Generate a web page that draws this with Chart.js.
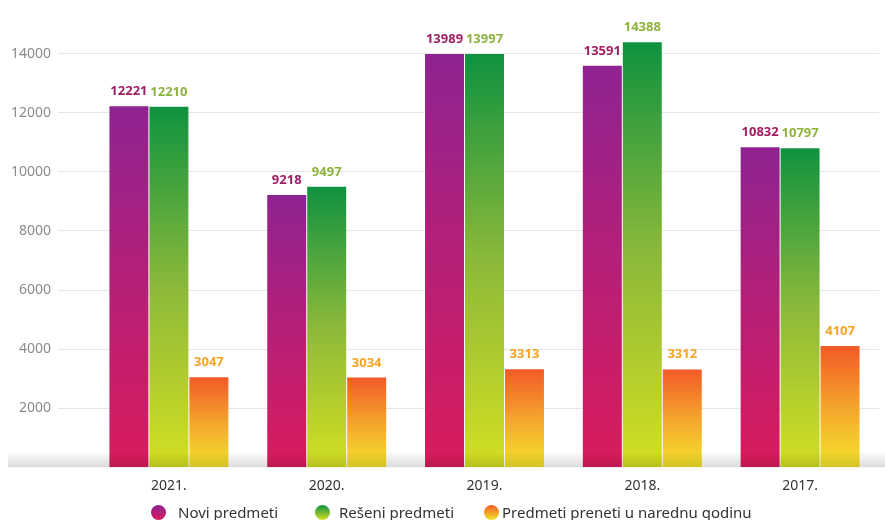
<!DOCTYPE html>
<html>
<head>
<meta charset="utf-8">
<script src="https://cdn.jsdelivr.net/npm/chart.js@4/dist/chart.umd.min.js"></script>
<style>
  html, body { margin: 0; padding: 0; background: #fff; overflow: hidden; }
  .wrap { position: relative; width: 885px; height: 520px; }
  .legend { position: absolute; left: 0; top: 502px; width: 885px; height: 20px;
    font-family: "Noto Sans", sans-serif; font-size: 15px; color: #333; }
  .legend span.item { position: absolute; top: 0; white-space: nowrap; line-height: 20px; }
  .legend i { display: inline-block; width: 15px; height: 15px; border-radius: 50%; vertical-align: -2px; }
</style>
</head>
<body>
<div class="wrap">
  <canvas id="chart" width="885" height="520"></canvas>
  <div class="legend" id="legend"></div>
</div>
<script>
// Podaci
const godine = ['2021.', '2020.', '2019.', '2018.', '2017.'];
const noviPredmeti = [12221, 9218, 13989, 13591, 10832];
const reseniPredmeti = [12210, 9497, 13997, 14388, 10797];
const preneti = [3047, 3034, 3313, 3312, 4107];
const nazivi = ['Novi predmeti', 'Rešeni predmeti', 'Predmeti preneti u narednu godinu'];
const yPodeoci = [2000, 4000, 6000, 8000, 10000, 12000, 14000];

// boje: vrh, sredina, dno, boja natpisa
const boje = [
    ['#8e2391', '#b61f77', '#da1b5c', '#a01e63'],
    ['#0f923f', '#8cb93a', '#d4df22', '#8db43e'],
    ['#f25a27', '#f4a42d', '#f4e42c', '#f7a325']
];

function gradijent(i) {
    return function (context) {
        const chart = context.chart;
        if (!chart.chartArea || context.type !== 'data') return boje[i][0];
        const y = chart.scales.y;
        const top = y.getPixelForValue(context.raw);
        const bottom = y.getPixelForValue(0);
        const g = chart.ctx.createLinearGradient(0, top, 0, bottom);
        g.addColorStop(0, boje[i][0]);
        g.addColorStop(0.5, boje[i][1]);
        g.addColorStop(1, boje[i][2]);
        return g;
    };
}

// senka pri dnu + vrednosti iznad stubova
const natpisi = {
    id: 'natpisi',
    afterDatasetsDraw(chart) {
        const ctx = chart.ctx;
        const y0 = chart.scales.y.getPixelForValue(0);
        const sh = ctx.createLinearGradient(0, y0 - 16, 0, y0);
        sh.addColorStop(0, 'rgba(0,0,0,0)');
        sh.addColorStop(1, 'rgba(0,0,0,0.14)');
        ctx.save();
        ctx.fillStyle = sh;
        ctx.fillRect(8, y0 - 16, chart.width - 8, 16);

        ctx.font = "bold 13px 'Noto Sans', sans-serif";
        ctx.textAlign = 'center';
        ctx.textBaseline = 'alphabetic';
        chart.data.datasets.forEach((ds, i) => {
            const meta = chart.getDatasetMeta(i);
            ctx.fillStyle = boje[i][3];
            meta.data.forEach((bar, j) => {
                ctx.fillText(ds.data[j], bar.x, bar.y - 11);
            });
        });
        ctx.restore();
    }
};

const ctx = document.getElementById('chart').getContext('2d');
const myChart = new Chart(ctx, {
    type: 'bar',
    data: {
        labels: godine,
        datasets: [
            { label: nazivi[0], data: noviPredmeti, backgroundColor: gradijent(0) },
            { label: nazivi[1], data: reseniPredmeti, backgroundColor: gradijent(1) },
            { label: nazivi[2], data: preneti, backgroundColor: gradijent(2) }
        ]
    },
    options: {
        responsive: false,
        animation: false,
        events: [],
        layout: { padding: { left: 8, right: 6, top: 0, bottom: 16 } },
        datasets: {
            bar: { categoryPercentage: 0.76, barPercentage: 0.975 }
        },
        plugins: {
            legend: { display: false },
            tooltip: { enabled: false }
        },
        scales: {
            x: {
                grid: { display: false, drawTicks: false },
                border: { display: false },
                ticks: {
                    padding: 10,
                    color: '#333',
                    font: { family: "'Noto Sans', sans-serif", size: 14 }
                }
            },
            y: {
                min: 0,
                max: 15300,
                border: { display: false },
                afterBuildTicks: s => { s.ticks = yPodeoci.map(v => ({ value: v })); },
                afterFit: s => { s.width = 82; },
                grid: {
                    color: '#e6e6e6',
                    tickLength: 32
                },
                ticks: {
                    padding: 7,
                    color: '#8c8c8c',
                    font: { family: "'Noto Sans', sans-serif", size: 14 },
                    callback: v => v
                }
            }
        }
    },
    plugins: [natpisi]
});

// legenda
const legendaPoz = [151, 315, 484];
const razmak = [12, 9, 3];
const legenda = document.getElementById('legend');
nazivi.forEach((n, i) => {
    const s = document.createElement('span');
    s.className = 'item';
    s.style.left = legendaPoz[i] + 'px';
    const k = document.createElement('i');
    k.style.background = 'linear-gradient(' + boje[i][0] + ', ' + boje[i][2] + ')';
    k.style.marginRight = razmak[i] + 'px';
    s.appendChild(k);
    s.appendChild(document.createTextNode(n));
    legenda.appendChild(s);
});
</script>
</body>
</html>
